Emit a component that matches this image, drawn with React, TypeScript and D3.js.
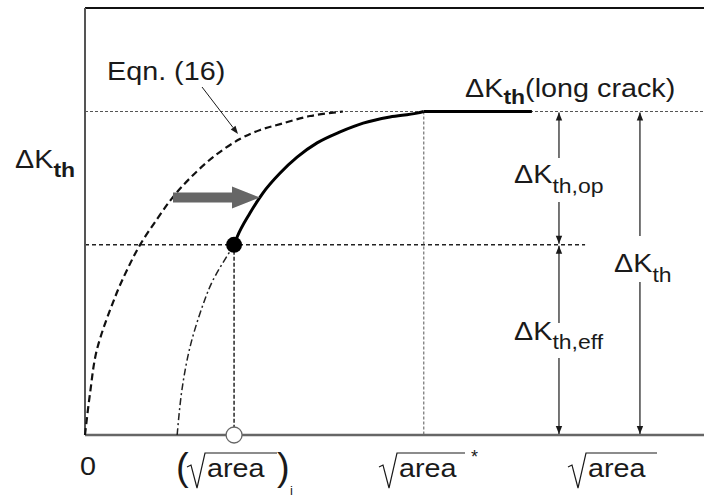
import React from "react";
import * as d3 from "d3";

// ---- data (normalized units: x = sqrt(area) / sqrt(area)*, y = ΔK / ΔK_th(long crack)) ----
const X_MAX = 1.83;
const Y_MAX = 1.32;
const DK_LONG = 1.0;
const DK_EFF = 0.588;
const AREA_STAR = 1.0;
const AREA_I = 0.44;
const AREA_START = 0.272;
const FLAT_END = 1.319;
const EFF_LINE_END = 1.476;

const eqn16X = [0, 0.015, 0.035, 0.089, 0.124, 0.162, 0.213, 0.26, 0.31, 0.378, 0.457, 0.517, 0.576, 0.664, 0.761];
const eqn16Y = [0, 0.13, 0.263, 0.427, 0.51, 0.587, 0.668, 0.736, 0.794, 0.859, 0.915, 0.943, 0.961, 0.986, 1.0];

const dashDotX = [AREA_START, 0.286, 0.31, 0.348, 0.378, AREA_I];
const dashDotY = [0, 0.139, 0.272, 0.402, 0.479, DK_EFF];

const solidX = [AREA_I, 0.449, 0.487, 0.525, 0.576, 0.626, 0.685, 0.753, 0.821, 0.9, 0.98, AREA_STAR];
const solidY = [DK_EFF, 0.612, 0.686, 0.748, 0.81, 0.859, 0.903, 0.937, 0.964, 0.983, 0.995, DK_LONG];

const ARROW_OP_X = 1.399;
const ARROW_TH_X = 1.638;

const W = 704;
const H = 497;
const x = d3.scaleLinear().domain([0, X_MAX]).range([85, 705]);
const y = d3.scaleLinear().domain([0, Y_MAX]).range([435, 8]);

const FONT = "'Liberation Sans', Arial, Helvetica, sans-serif";
const SX = 1.15;

const zip = (xs: number[], ys: number[]) => xs.map((v, i) => [v, ys[i]] as [number, number]);
const smooth = d3
  .line<[number, number]>()
  .x((d) => x(d[0]))
  .y((d) => y(d[1]))
  .curve(d3.curveCatmullRom.alpha(0.5));
const mono = d3
  .line<[number, number]>()
  .x((d) => x(d[0]))
  .y((d) => y(d[1]))
  .curve(d3.curveMonotoneX);
const straight = d3
  .line<[number, number]>()
  .x((d) => x(d[0]))
  .y((d) => y(d[1]));

function Label({
  px,
  py,
  main,
  sub,
  subBold,
  subDy,
  rest,
  size = 25,
  subSize = 20,
}: {
  px: number;
  py: number;
  main: string;
  sub?: string;
  subBold?: boolean;
  subDy?: number;
  rest?: string;
  size?: number;
  subSize?: number;
}) {
  return (
    <g transform={`translate(${px},${py}) scale(${SX},1)`}>
      <text x={0} y={0} fontFamily={FONT} fontSize={size} fill="#1a1a1a">
        {main}
        {sub && (
          <tspan fontSize={subSize} dy={subDy ?? 9} fontWeight={subBold ? "bold" : "normal"}>
            {sub}
          </tspan>
        )}
        {rest && <tspan dy={-(subDy ?? 9)}>{rest}</tspan>}
      </text>
    </g>
  );
}

function SqrtArea({ px, py, over }: { px: number; py: number; over: number }) {
  const top = py - 24;
  const d = `M${px},${py - 10} L${px + 4},${py - 12} L${px + 10},${py + 11} L${px + 18},${top} L${px + 18 + over},${top}`;
  return (
    <g>
      <path d={d} fill="none" stroke="#1a1a1a" strokeWidth={1.2} />
      <g transform={`translate(${px + 20},${py}) scale(${SX},1)`}>
        <text fontFamily={FONT} fontSize={25} fill="#1a1a1a">
          area
        </text>
      </g>
    </g>
  );
}

function VArrow({ xv, y1, y2, up, down }: { xv: number; y1: number; y2: number; up?: boolean; down?: boolean }) {
  const hx = 3.2;
  const hl = 8;
  return (
    <g>
      <line x1={xv} x2={xv} y1={y1} y2={y2} stroke="#1a1a1a" strokeWidth={1.2} />
      {up && <path d={`M${xv},${y1} L${xv - hx},${y1 + hl} L${xv + hx},${y1 + hl} Z`} fill="#1a1a1a" />}
      {down && <path d={`M${xv},${y2} L${xv - hx},${y2 - hl} L${xv + hx},${y2 - hl} Z`} fill="#1a1a1a" />}
    </g>
  );
}

export default function App() {
  const yLong = y(DK_LONG);
  const yEff = y(DK_EFF);
  const y0 = y(0);
  const xOp = x(ARROW_OP_X);
  const xTh = x(ARROW_TH_X);
  const xi = x(AREA_I);

  // grey shift arrow
  const gx0 = 173,
    gx1 = 232,
    gx2 = 260,
    gy = 197.5;
  const grey = `M${gx0},${gy - 5} L${gx1},${gy - 5} L${gx1},${gy - 11} L${gx2},${gy} L${gx1},${gy + 11} L${gx1},${gy + 5} L${gx0},${gy + 5} Z`;

  // eqn leader arrow
  const ax0 = 202,
    ay0 = 87,
    ax1 = 238,
    ay1 = 134;
  const ang = Math.atan2(ay1 - ay0, ax1 - ax0);
  const hl = 8,
    hw = 3;
  const bx = ax1 - hl * Math.cos(ang),
    by = ay1 - hl * Math.sin(ang);
  const head = `M${ax1},${ay1} L${bx + hw * Math.sin(ang)},${by - hw * Math.cos(ang)} L${bx - hw * Math.sin(ang)},${by + hw * Math.cos(ang)} Z`;

  return (
    <svg width={W} height={H} style={{ position: "absolute", left: 0, top: 0, background: "#fff" }}>
      <rect x={0} y={0} width={W} height={H} fill="#fff" />

      {/* reference lines */}
      <line x1={x(0)} x2={W} y1={yLong} y2={yLong} stroke="#555" strokeWidth={1} strokeDasharray="3,2" />
      <line x1={x(0)} x2={x(EFF_LINE_END)} y1={yEff} y2={yEff} stroke="#222" strokeWidth={1.5} strokeDasharray="4,3" />
      <line x1={x(AREA_STAR)} x2={x(AREA_STAR)} y1={yLong} y2={y0} stroke="#555" strokeWidth={1} strokeDasharray="3,2" />
      <line x1={xi} x2={xi} y1={yEff} y2={y0} stroke="#333" strokeWidth={1.6} strokeDasharray="4,2" />

      {/* frame */}
      <line x1={x(0)} x2={W} y1={8} y2={8} stroke="#111" strokeWidth={2} />
      <line x1={x(0)} x2={x(0)} y1={8} y2={y0} stroke="#555" strokeWidth={2} />
      <line x1={x(0)} x2={W} y1={y0} y2={y0} stroke="#666" strokeWidth={2.5} />

      {/* curves */}
      <path d={smooth(zip(eqn16X, eqn16Y)) || ""} fill="none" stroke="#111" strokeWidth={2.2} strokeDasharray="7,4" />
      <path d={smooth(zip(dashDotX, dashDotY)) || ""} fill="none" stroke="#222" strokeWidth={1.5} strokeDasharray="7,3,2,3" />
      <path d={mono(zip(solidX, solidY)) || ""} fill="none" stroke="#000" strokeWidth={3} />
      <path
        d={straight([[AREA_STAR, DK_LONG], [FLAT_END, DK_LONG]]) || ""}
        fill="none"
        stroke="#000"
        strokeWidth={3}
      />

      {/* points */}
      <circle cx={xi} cy={yEff} r={8} fill="#000" />
      <circle cx={xi} cy={y0} r={8} fill="#fff" stroke="#666" strokeWidth={1.3} />

      {/* grey shift arrow */}
      <path d={grey} fill="#666" />

      {/* eqn label */}
      <g transform={`translate(107,80) scale(${SX},1)`}>
        <text fontFamily={FONT} fontSize={25} fill="#1a1a1a">
          Eqn. (16)
        </text>
      </g>
      <line x1={ax0} y1={ay0} x2={bx} y2={by} stroke="#1a1a1a" strokeWidth={1} />
      <path d={head} fill="#1a1a1a" />

      {/* y label */}
      <Label px={15} py={168} main="ΔK" sub="th" subBold subDy={9} />
      <Label px={465} py={97} main="ΔK" sub="th" subBold subDy={7} rest="(long crack)" />

      {/* right annotations */}
      <VArrow xv={xOp} y1={yLong + 1} y2={158} up />
      <VArrow xv={xOp} y1={202} y2={yEff - 1} down />
      <Label px={514} py={183} main="ΔK" sub="th,op" subDy={10} />

      <VArrow xv={xOp} y1={yEff + 1} y2={323} up />
      <VArrow xv={xOp} y1={358} y2={y0 - 1} down />
      <Label px={514} py={340} main="ΔK" sub="th,eff" subDy={9} />

      <VArrow xv={xTh} y1={yLong + 1} y2={236} up />
      <VArrow xv={xTh} y1={282} y2={y0 - 1} down />
      <Label px={614} py={272} main="ΔK" sub="th" subDy={10} />

      {/* x tick labels */}
      <g transform={`translate(80,475) scale(${SX},1)`}>
        <text fontFamily={FONT} fontSize={25} fill="#1a1a1a">
          0
        </text>
      </g>
      <text x={176} y={480} fontFamily={FONT} fontSize={38} fill="#1a1a1a">
        (
      </text>
      <SqrtArea px={187} py={477} over={72} />
      <text x={277} y={480} fontFamily={FONT} fontSize={38} fill="#1a1a1a">
        )
      </text>
      <text x={290} y={495} fontFamily={FONT} fontSize={13} fill="#1a1a1a">
        i
      </text>

      <SqrtArea px={379} py={477} over={68} />
      <text x={471} y={463} fontFamily={FONT} fontSize={18} fill="#1a1a1a">
        *
      </text>

      <SqrtArea px={568} py={477} over={71} />
    </svg>
  );
}
